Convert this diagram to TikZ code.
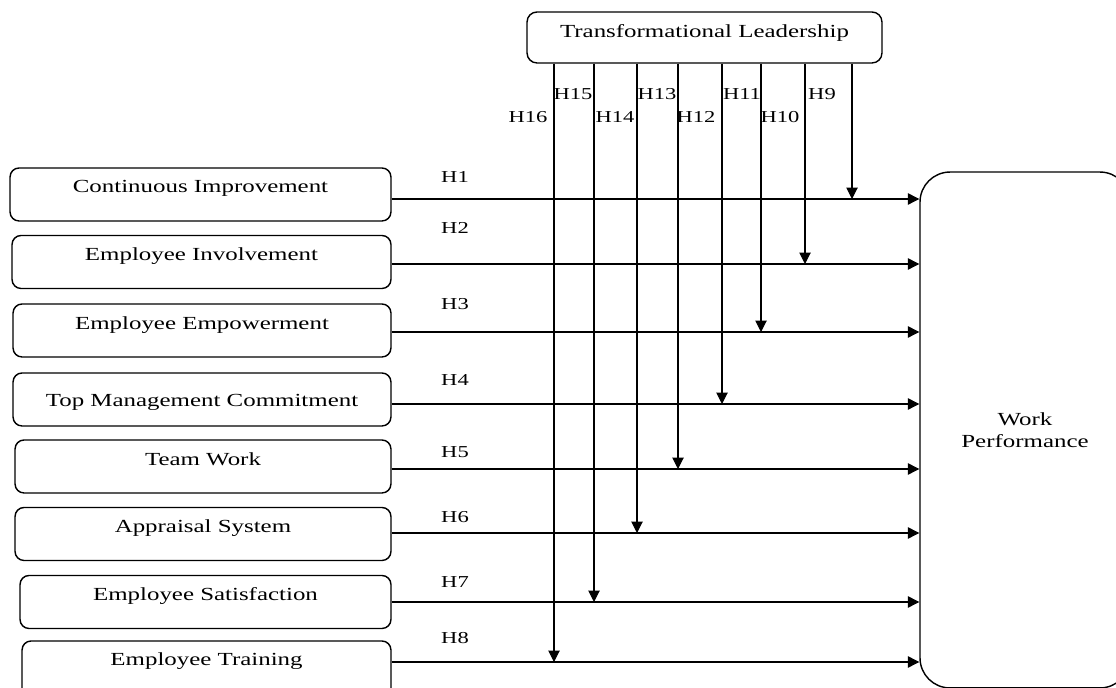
\documentclass[tikz,border=0pt]{standalone}
\usepackage{fontspec}
\setmainfont[FakeStretch=1.35]{Liberation Serif}
\usetikzlibrary{arrows.meta}

\begin{document}
\begin{tikzpicture}[x=0.02cm, y=-0.02cm, line width=0.6pt]
    \tikzstyle{pbox}=[draw, line width=0.8pt, inner sep=0pt, font=\fontsize{10.5}{12.5}\selectfont]
    \tikzstyle{lbox}=[pbox, rounded corners=0.18cm, minimum height=1.06cm, text height=7pt, text depth=8.7pt]
    \tikzstyle{marrs}=[line width=0.6pt, -{Triangle[width=6.5pt,length=6.5pt]}]
    \tikzstyle{hlab}=[inner sep=0pt, font=\fontsize{9.5}{11}\selectfont]

    \useasboundingbox (0,0) rectangle (1116,688);
    \clip (0,0) rectangle (1116,688);

    % moderator and outcome
    \node[pbox, rounded corners=0.2cm, minimum width=7.1cm, minimum height=1.02cm, text height=8pt, text depth=8pt] (tl) at (704.5,37.5) {Transformational Leadership};
    \node[pbox, rounded corners=0.6cm, minimum width=4.2cm, minimum height=10.32cm, align=center] (wp) at (1025,430) {Work\\Performance};

    % predictors
    \node[lbox, minimum width=7.62cm] (ci) at (200.5,194.5) {Continuous Improvement};
    \node[lbox, minimum width=7.58cm] (ei) at (201.5,262) {Employee Involvement};
    \node[lbox, minimum width=7.56cm] (ee) at (202,330.5) {Employee Empowerment};
    \node[lbox, minimum width=7.56cm, text height=12pt, text depth=4pt] (tmc) at (202,399.5) {Top Management Commitment};
    \node[lbox, minimum width=7.52cm] (tw) at (203,466.5) {Team Work};
    \node[lbox, minimum width=7.52cm] (as) at (203,534) {Appraisal System};
    \node[lbox, minimum width=7.42cm] (es) at (205.5,602) {Employee Satisfaction};
    \node[lbox, minimum width=7.38cm, minimum height=1.2cm, text depth=12.7pt] (et) at (206.5,671) {Employee Training};

    % direct and moderated paths
    \foreach \n/\b/\x/\y in {1/ci/852/199, 2/ei/805/264, 3/ee/761/332, 4/tmc/722/404, 5/tw/678/469, 6/as/637/533, 7/es/594/602, 8/et/554/662} {
        \coordinate (j\n) at (\x,\y);
        \draw[marrs] (\b.east |- j\n) -- (wp.west |- j\n);
        \draw[marrs] (tl.south -| j\n) -- (j\n);
    }

    % hypothesis labels
    \foreach \n/\y in {1/177, 2/228, 3/304, 4/380, 5/452, 6/517, 7/582, 8/638} {
        \node[hlab] (h\n) at (455,\y) {H\n};
    }
    \foreach \n/\x/\y in {9/822/94, 10/780/117, 11/742/94, 12/696/117, 13/657/94, 14/615/117, 15/573/94, 16/528/117} {
        \node[hlab] (h\n) at (\x,\y) {H\n};
    }

\end{tikzpicture}
\end{document}
